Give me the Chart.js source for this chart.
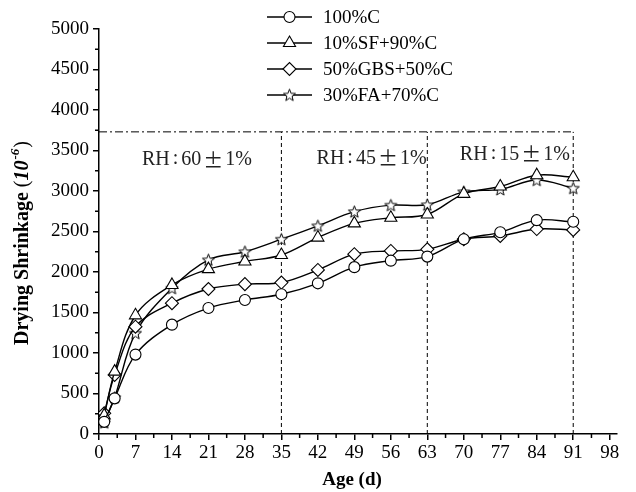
<!DOCTYPE html>
<html>
<head>
<meta charset="utf-8">
<script src="https://cdn.jsdelivr.net/npm/chart.js@4/dist/chart.umd.min.js"></script>
<style>
  html, body { margin: 0; padding: 0; background: #fff; }
  #wrap { width: 636px; height: 492px; }
</style>
</head>
<body>
<div id="wrap"><canvas id="shrinkChart" width="636" height="492"></canvas></div>
<script>
// data
const ages = [1, 3, 7, 14, 21, 28, 35, 42, 49, 56, 63, 70, 77, 84, 91];
const seriesNames = ['100%C', '10%SF+90%C', '50%GBS+50%C', '30%FA+70%C'];
const c100 = [150, 440, 980, 1350, 1555, 1655, 1725, 1860, 2060, 2140, 2190, 2405, 2490, 2640, 2620];
const sf10 = [230, 770, 1465, 1840, 2035, 2130, 2210, 2425, 2600, 2670, 2710, 2965, 3055, 3195, 3170];
const gbs50 = [255, 730, 1325, 1615, 1790, 1850, 1870, 2025, 2220, 2260, 2280, 2405, 2445, 2530, 2520];
const fa30 = [140, 450, 1245, 1800, 2150, 2250, 2405, 2570, 2745, 2825, 2830, 2990, 3020, 3135, 3035];
const xTicks = [0, 7, 14, 21, 28, 35, 42, 49, 56, 63, 70, 77, 84, 91, 98];
const yTicks = [0, 500, 1000, 1500, 2000, 2500, 3000, 3500, 4000, 4500, 5000];
// humidity stages
const stageBounds = [35, 63, 91];
const stageTop = 3730;
const stageRH = ['60', '45', '15'];
const stageLabelX = [18.8, 52.3, 79.8];
const stageLabelY = [3380, 3400, 3450];

const serif = '"Liberation Serif", "Times New Roman", serif';
const cjk = '"Noto Sans CJK SC", sans-serif';

// five point star marker
function makeStar() {
    const c = document.createElement('canvas');
    c.width = 15; c.height = 15;
    const g = c.getContext('2d');
    g.beginPath();
    for (let i = 0; i < 10; i++) {
        const r = i % 2 === 0 ? 6.3 : 2.7;
        const a = -Math.PI / 2 + i * Math.PI / 5;
        const px = 7.5 + r * Math.cos(a), py = 8 + r * Math.sin(a);
        if (i === 0) g.moveTo(px, py); else g.lineTo(px, py);
    }
    g.closePath();
    g.fillStyle = '#fff';
    g.fill();
    g.lineWidth = 1;
    g.strokeStyle = '#000';
    g.stroke();
    return c;
}
const starImg = makeStar();

function pts(vals) {
    return ages.map((a, i) => ({ x: a, y: vals[i] }));
}

function series(label, vals, style, radius) {
    return {
        label: label,
        data: pts(vals),
        borderColor: '#000',
        borderWidth: 1.4,
        backgroundColor: '#fff',
        pointStyle: style,
        pointRadius: radius,
        pointBorderColor: '#000',
        pointBackgroundColor: '#fff',
        pointBorderWidth: 1.1,
        tension: 0.35,
        fill: false
    };
}

const datasets = [
    series(seriesNames[0], c100, 'circle', 5.5),
    series(seriesNames[1], sf10, 'triangle', 7),
    series(seriesNames[2], gbs50, 'rectRot', 6.5),
    series(seriesNames[3], fa30, starImg, 7)
];

// draw text made of pieces with different fonts, centred on cx
function drawPieces(ctx, pieces, cx, cy) {
    let total = 0;
    pieces.forEach(p => { ctx.font = p.font; p.w = ctx.measureText(p.text).width + (p.gap || 0) * 2; total += p.w; });
    let x = cx - total / 2;
    ctx.textAlign = 'left';
    pieces.forEach(p => {
        ctx.font = p.font;
        ctx.fillText(p.text, x + (p.gap || 0), cy + (p.dy || 0));
        x += p.w;
    });
}

// dashed stage lines, labels, minor ticks, axis titles and legend
const decorPlugin = {
    id: 'decor',
    beforeDatasetsDraw(chart) {
        const ctx = chart.ctx;
        const x = chart.scales.x, y = chart.scales.y;
        ctx.save();
        ctx.strokeStyle = '#000';
        ctx.lineWidth = 1;
        // vertical dashed
        ctx.setLineDash([4, 3]);
        stageBounds.forEach(b => {
            ctx.beginPath();
            ctx.moveTo(x.getPixelForValue(b), y.getPixelForValue(0));
            ctx.lineTo(x.getPixelForValue(b), y.getPixelForValue(stageTop));
            ctx.stroke();
        });
        // horizontal dash-dot
        ctx.setLineDash([8, 3, 2, 3]);
        ctx.beginPath();
        ctx.moveTo(x.getPixelForValue(0), y.getPixelForValue(stageTop));
        ctx.lineTo(x.getPixelForValue(91), y.getPixelForValue(stageTop));
        ctx.stroke();
        ctx.setLineDash([]);
        // stage labels
        ctx.fillStyle = '#222';
        ctx.textBaseline = 'middle';
        stageRH.forEach((rh, i) => {
            drawPieces(ctx, [
                { text: 'RH', font: '20px ' + serif },
                { text: ':', font: '20px ' + serif, gap: 3, dy: -1 },
                { text: rh, font: '20px ' + serif },
                { text: '\u00B1', font: '20px ' + cjk, gap: 2 },
                { text: '1%', font: '20px ' + serif }
            ], x.getPixelForValue(stageLabelX[i]), y.getPixelForValue(stageLabelY[i]));
        });
        ctx.restore();
    },
    afterDraw(chart) {
        const ctx = chart.ctx;
        const x = chart.scales.x, y = chart.scales.y;
        const area = chart.chartArea;
        ctx.save();
        ctx.strokeStyle = '#000';
        ctx.lineWidth = 1.5;
        // minor ticks
        for (let v = 3.5; v < 99; v += 7) {
            const px = x.getPixelForValue(v);
            ctx.beginPath();
            ctx.moveTo(px, area.bottom);
            ctx.lineTo(px, area.bottom + 4);
            ctx.stroke();
        }
        for (let v = 250; v < 5000; v += 500) {
            const py = y.getPixelForValue(v);
            ctx.beginPath();
            ctx.moveTo(area.left, py);
            ctx.lineTo(area.left - 4, py);
            ctx.stroke();
        }
        // x title
        ctx.fillStyle = '#000';
        ctx.font = 'bold 19px ' + serif;
        ctx.textAlign = 'center';
        ctx.textBaseline = 'middle';
        ctx.fillText('Age (d)', (area.left + area.right) / 2 - 6, 480);
        // y title, mixed style
        ctx.translate(23, 243);
        ctx.rotate(-Math.PI / 2);
        drawPieces(ctx, [
            { text: 'Drying Shrinkage ', font: 'bold 20px ' + serif },
            { text: '(', font: '20px ' + serif },
            { text: '10', font: 'italic bold 20px ' + serif },
            { text: '-6', font: 'italic bold 13px ' + serif, dy: -7, gap: 1 },
            { text: ')', font: '20px ' + serif }
        ], 0, 0);
        ctx.restore();

        // legend
        ctx.save();
        chart.data.datasets.forEach((ds, i) => {
            const ly = 17 + i * 26;
            ctx.strokeStyle = '#000';
            ctx.lineWidth = 1.4;
            ctx.beginPath();
            ctx.moveTo(267, ly);
            ctx.lineTo(312, ly);
            ctx.stroke();
            ctx.fillStyle = '#fff';
            ctx.lineWidth = 1.1;
            Chart.helpers.drawPoint(ctx, {
                pointStyle: ds.pointStyle,
                radius: ds.pointRadius,
                rotation: 0,
                borderWidth: 1.1
            }, 289.5, ly);
            ctx.fillStyle = '#000';
            ctx.font = '19px ' + serif;
            ctx.textAlign = 'left';
            ctx.textBaseline = 'middle';
            ctx.fillText(ds.label, 323, ly + 1);
        });
        ctx.restore();
    }
};

const ctx = document.getElementById('shrinkChart').getContext('2d');
new Chart(ctx, {
    type: 'line',
    data: { datasets: datasets },
    options: {
        responsive: false,
        animation: false,
        events: [],
        layout: { padding: { left: 0, right: 19, top: 29, bottom: 0 } },
        plugins: { legend: { display: false }, tooltip: { enabled: false } },
        scales: {
            x: {
                type: 'linear',
                min: 0,
                max: 99.4,
                afterBuildTicks: scale => { scale.ticks = xTicks.map(v => ({ value: v })); },
                afterFit: scale => { scale.height = 58; },
                grid: { drawOnChartArea: false, drawTicks: true, tickLength: 6, color: '#000', lineWidth: 1.5 },
                border: { display: true, color: '#000', width: 1.5 },
                ticks: { color: '#000', font: { family: serif, size: 19 }, padding: 2, maxRotation: 0, autoSkip: false,
                         callback: v => String(v) }
            },
            y: {
                type: 'linear',
                min: 0,
                max: 5000,
                afterBuildTicks: scale => { scale.ticks = yTicks.map(v => ({ value: v })); },
                afterFit: scale => { scale.width = 99; },
                grid: { drawOnChartArea: false, drawTicks: true, tickLength: 6, color: '#000', lineWidth: 1.5 },
                border: { display: true, color: '#000', width: 1.5 },
                ticks: { color: '#000', font: { family: serif, size: 19 }, padding: 4, autoSkip: false,
                         callback: v => String(v) }
            }
        }
    },
    plugins: [decorPlugin]
});
</script>
</body>
</html>
